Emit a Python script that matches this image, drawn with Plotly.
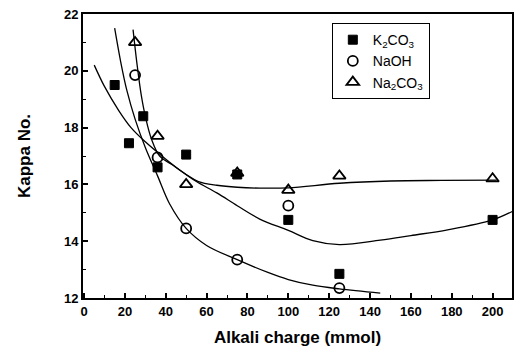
import plotly.graph_objects as go

# Measured data
k2co3_x = [15, 22, 29, 36, 50, 75, 100, 125, 200]
k2co3_y = [19.5, 17.45, 18.4, 16.6, 17.05, 16.35, 14.75, 12.85, 14.75]
naoh_x = [25, 36, 50, 75, 100, 125]
naoh_y = [19.85, 16.95, 14.45, 13.35, 15.25, 12.35]
na2co3_x = [25, 36, 50, 75, 100, 125, 200]
na2co3_y = [21.0, 17.7, 16.0, 16.4, 15.8, 16.3, 16.2]

# Fitted curves
fit_k2co3_x = [5, 10, 17, 23, 30, 39, 47, 55, 65, 75, 86, 100, 112, 125, 145, 160, 178, 200, 210]
fit_k2co3_y = [20.2, 19.45, 18.6, 18.0, 17.5, 16.95, 16.5, 16.1, 15.7, 15.25, 14.78, 14.38, 14.02, 13.88, 14.04, 14.2, 14.4, 14.75, 15.06]
fit_naoh_x = [15, 18, 21, 25, 30, 36, 42, 50, 60, 75, 90, 100, 112, 125, 145]
fit_naoh_y = [21.5, 20.3, 19.3, 18.3, 17.3, 16.3, 15.3, 14.45, 13.85, 13.35, 12.9, 12.65, 12.45, 12.32, 12.17]
fit_na2co3_x = [24, 26, 28, 30, 33, 37, 43, 50, 56, 65, 75, 86, 100, 125, 150, 175, 202]
fit_na2co3_y = [21.45, 20.2, 19.15, 18.4, 17.6, 17.0, 16.7, 16.35, 16.1, 15.97, 15.9, 15.87, 15.88, 16.04, 16.12, 16.14, 16.15]

x_ticks = [0, 20, 40, 60, 80, 100, 120, 140, 160, 180, 200]
y_ticks = [12, 14, 16, 18, 20, 22]

FONT = "Arial, Liberation Sans, sans-serif"

fig = go.Figure()

for fx, fy in [(fit_k2co3_x, fit_k2co3_y), (fit_naoh_x, fit_naoh_y), (fit_na2co3_x, fit_na2co3_y)]:
    fig.add_trace(go.Scatter(x=fx, y=fy, mode="lines", showlegend=False,
                             line=dict(color="black", width=1.3, shape="spline", smoothing=1.0),
                             hoverinfo="skip"))

fig.add_trace(go.Scatter(x=k2co3_x, y=k2co3_y, mode="markers", name="K<sub>2</sub>CO<sub>3</sub>",
                         marker=dict(symbol="square", size=9, color="black",
                                     line=dict(color="black", width=1))))
fig.add_trace(go.Scatter(x=naoh_x, y=naoh_y, mode="markers", name="NaOH",
                         marker=dict(symbol="circle-open", size=10, color="black",
                                     line=dict(color="black", width=1.8))))
fig.add_trace(go.Scatter(x=na2co3_x, y=na2co3_y, mode="markers", name="Na<sub>2</sub>CO<sub>3</sub>",
                         marker=dict(symbol="triangle-up-open", size=11, color="black",
                                     line=dict(color="black", width=1.8))))

fig.update_layout(
    width=518, height=356,
    margin=dict(l=83, r=4, t=14, b=58),
    paper_bgcolor="white", plot_bgcolor="white",
    font=dict(family=FONT, color="black"),
    showlegend=True,
    legend=dict(x=0.58, y=0.968, xanchor="left", yanchor="top",
                bordercolor="black", borderwidth=1, bgcolor="white",
                font=dict(family=FONT, size=14, color="black"),
                tracegroupgap=4, itemwidth=30),
    xaxis=dict(range=[-0.5, 209.5], tickvals=x_ticks, ticktext=[str(v) for v in x_ticks],
               showline=True, linecolor="black", linewidth=2, mirror=True,
               ticks="inside", ticklen=5, tickwidth=1.5, tickcolor="black",
               minor=dict(dtick=10, ticks="inside", ticklen=3, tickwidth=1, tickcolor="black"),
               showgrid=False, zeroline=False,
               tickfont=dict(family=FONT, size=13, color="black", weight="bold"),
               title=dict(text="Alkali charge (mmol)", standoff=14,
                          font=dict(family=FONT, size=17, color="black", weight="bold"))),
    yaxis=dict(range=[12, 22], tickvals=y_ticks, ticktext=[str(v) for v in y_ticks],
               showline=True, linecolor="black", linewidth=2, mirror=True,
               ticks="inside", ticklen=5, tickwidth=1.5, tickcolor="black",
               minor=dict(dtick=1, ticks="inside", ticklen=3, tickwidth=1, tickcolor="black"),
               showgrid=False, zeroline=False,
               tickfont=dict(family=FONT, size=13, color="black", weight="bold"),
               title=dict(text="Kappa No.", standoff=29,
                          font=dict(family=FONT, size=17, color="black", weight="bold"))),
)

fig.write_html("out.html")
